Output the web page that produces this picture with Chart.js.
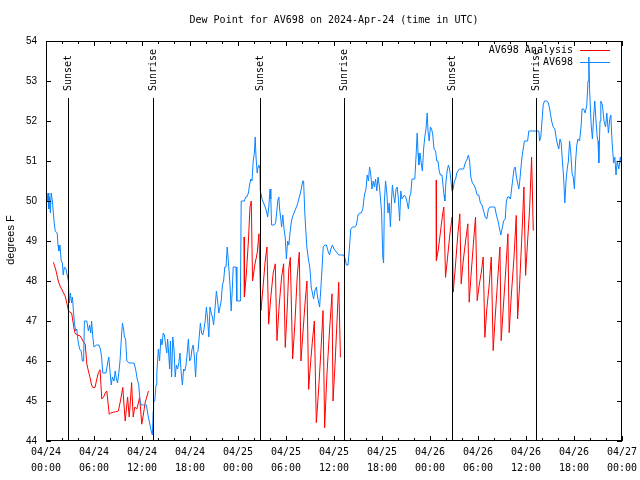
<!DOCTYPE html>
<html>
<head>
<meta charset="utf-8">
<script src="https://cdn.jsdelivr.net/npm/chart.js@4.4.1/dist/chart.umd.min.js"></script>
<style>
  body { margin: 0; background: #fff; }
  #dew { display: block; }
</style>
</head>
<body>
<canvas id="dew" width="640" height="480"></canvas>
<script>
// hours since 04/24 00:00 UTC
const obsHours = [
  0.0, 0.15, 0.25, 0.35, 0.45, 0.55, 0.65, 0.8, 1.0, 1.15, 1.4, 1.5, 1.6, 1.75, 1.9, 2.05, 2.15, 2.3, 2.5, 2.65,
  2.8, 2.9, 3.05, 3.2, 3.3, 3.45, 3.55, 3.7, 3.85, 4.0, 4.2, 4.4, 4.55, 4.7, 4.8, 5.1, 5.3, 5.45, 5.6, 5.7,
  5.85, 6.0, 6.3, 6.6, 6.8, 6.95, 7.1, 7.5, 7.7, 7.85, 8.0, 8.15, 8.3, 8.5, 8.65, 8.8, 8.95, 9.1, 9.25, 9.4,
  9.55, 9.7, 9.8, 9.95, 10.1, 10.4, 10.8, 11.0, 11.2, 11.4, 11.6, 11.75, 11.9, 12.2, 12.4, 12.55, 12.7, 12.85, 13.0, 13.15,
  13.3, 13.4, 13.45, 13.6, 13.75, 13.85, 13.95, 14.05, 14.2, 14.35, 14.5, 14.65, 14.8, 14.95, 15.1, 15.2, 15.3, 15.45, 15.55, 15.7,
  15.85, 16.0, 16.15, 16.3, 16.45, 16.6, 16.75, 16.9, 17.05, 17.2, 17.35, 17.5, 17.65, 17.8, 17.95, 18.1, 18.25, 18.4, 18.55, 18.7,
  18.85, 19.0, 19.15, 19.3, 19.45, 19.6, 19.75, 19.9, 20.05, 20.2, 20.35, 20.5, 20.65, 20.8, 20.95, 21.1, 21.3, 21.45, 21.6, 21.75,
  21.9, 22.05, 22.2, 22.35, 22.5, 22.65, 22.75, 22.9, 23.0, 23.15, 23.3, 23.4, 23.6, 23.75, 23.85, 24.0, 24.3, 24.4, 24.6, 24.8,
  24.95, 25.1, 25.3, 25.45, 25.6, 25.75, 25.9, 26.05, 26.15, 26.25, 26.4, 26.5, 26.6, 26.75, 26.8, 27.0, 27.2, 27.4, 27.55, 27.7,
  27.85, 28.0, 28.1, 28.2, 28.5, 28.7, 28.85, 29.0, 29.1, 29.2, 29.35, 29.45, 29.6, 29.75, 29.9, 30.05, 30.2, 30.35, 30.5, 30.65,
  30.8, 31.0, 31.2, 31.4, 31.6, 31.8, 31.95, 32.1, 32.2, 32.35, 32.45, 32.6, 32.8, 33.0, 33.15, 33.3, 33.45, 33.6, 33.8, 33.95,
  34.1, 34.2, 34.35, 34.5, 34.65, 34.85, 35.05, 35.25, 35.45, 35.6, 35.8, 36.0, 36.2, 36.4, 36.6, 36.8, 37.0, 37.2, 37.4, 37.55,
  37.75, 37.9, 38.1, 38.3, 38.6, 38.8, 39.0, 39.2, 39.4, 39.6, 39.8, 40.0, 40.15, 40.3, 40.45, 40.6, 40.75, 40.9, 41.05, 41.2,
  41.35, 41.5, 41.65, 41.8, 41.95, 42.1, 42.2, 42.3, 42.45, 42.6, 42.75, 42.9, 43.05, 43.2, 43.3, 43.45, 43.6, 43.75, 43.9, 44.05,
  44.2, 44.35, 44.5, 44.65, 44.8, 44.95, 45.1, 45.3, 45.45, 45.6, 45.75, 45.95, 46.1, 46.25, 46.4, 46.5, 46.6, 46.75, 46.9, 47.05,
  47.2, 47.35, 47.5, 47.65, 47.75, 47.9, 48.05, 48.2, 48.35, 48.5, 48.7, 48.85, 49.0, 49.15, 49.3, 49.5, 49.65, 49.75, 49.85, 50.0,
  50.15, 50.3, 50.45, 50.6, 50.75, 50.9, 51.05, 51.2, 51.35, 51.5, 51.7, 52.0, 52.2, 52.4, 52.65, 52.8, 52.95, 53.1, 53.3, 53.5,
  53.7, 53.9, 54.1, 54.3, 54.5, 54.7, 54.9, 55.1, 55.3, 55.5, 55.8, 56.1, 56.3, 56.5, 56.7, 56.85, 57.0, 57.2, 57.4, 57.55,
  57.7, 57.9, 58.05, 58.2, 58.35, 58.5, 58.65, 58.8, 58.95, 59.1, 59.2, 59.35, 59.5, 59.65, 59.8, 60.0, 60.2, 60.35, 60.6, 61.0,
  61.4, 61.6, 61.7, 61.85, 62.0, 62.15, 62.3, 62.6, 62.8, 63.0, 63.2, 63.4, 63.6, 63.8, 63.95, 64.1, 64.25, 64.4, 64.55, 64.7,
  64.85, 65.0, 65.15, 65.3, 65.45, 65.6, 65.75, 65.9, 66.05, 66.2, 66.35, 66.5, 66.7, 66.9, 67.0, 67.2, 67.4, 67.6, 67.75, 67.85,
  67.95, 68.05, 68.15, 68.3, 68.45, 68.6, 68.75, 68.9, 69.0, 69.1, 69.25, 69.35, 69.55, 69.75, 69.95, 70.1, 70.3, 70.5, 70.6, 70.75,
  70.95, 71.1, 71.25, 71.4, 71.6, 71.8, 72.0
];
const obsDewPoint = [
  50.2, 50.0, 50.2, 49.8, 50.1, 49.7, 50.2, 50.0, 49.5, 49.25, 49.2, 48.9, 48.75, 48.9, 48.5, 48.45, 48.15, 48.35, 48.3, 48.15,
  48.0, 47.45, 47.7, 47.45, 47.6, 47.2, 46.95, 46.75, 46.8, 46.5, 46.3, 46.25, 46.0, 46.0, 47.0, 47.0, 46.75, 46.9, 46.7, 47.0,
  46.6, 46.35, 46.4, 46.4, 46.3, 46.1, 45.7, 45.7, 45.95, 46.1, 45.75, 45.4, 45.6, 45.5, 45.75, 45.55, 45.45, 45.7, 46.0, 46.5,
  46.95, 46.8, 46.6, 46.55, 46.0, 45.95, 45.95, 45.95, 45.8, 45.55, 45.4, 45.0, 44.9, 44.9, 44.9, 44.9, 44.7, 44.55, 44.4, 44.25,
  44.15, 44.75, 45.0, 45.0, 45.4, 45.7, 46.0, 46.3, 46.0, 46.55, 46.4, 46.7, 46.65, 46.4, 46.2, 46.55, 46.3, 45.8, 46.5, 45.6,
  46.6, 46.3, 45.6, 45.9, 45.8, 45.95, 46.2, 45.7, 45.4, 45.8, 45.75, 45.9, 46.2, 46.55, 46.0, 46.05, 46.3, 46.4, 46.1, 45.6,
  46.2, 46.25, 46.6, 46.95, 46.7, 46.65, 46.8, 47.0, 47.35, 47.05, 46.6, 47.35, 47.2, 47.1, 46.9, 47.25, 47.75, 47.5, 47.2, 47.35,
  47.5, 47.9, 48.0, 48.35, 48.35, 48.85, 48.6, 48.2, 47.9, 47.25, 47.85, 48.35, 48.35, 48.35, 47.5, 47.5, 47.5, 50.0, 50.0, 50.0,
  50.1, 50.1, 50.2, 50.4, 50.55, 50.5, 51.0, 51.2, 51.6, 51.1, 50.7, 50.85, 50.9, 50.8, 50.25, 50.05, 49.95, 49.85, 49.75, 49.6,
  49.85, 50.3, 50.05, 49.4, 49.4, 49.45, 49.75, 50.05, 50.1, 49.8, 49.55, 49.35, 49.65, 49.3, 49.1, 48.55, 49.0, 48.9, 49.2, 49.45,
  49.6, 49.7, 49.8, 49.9, 50.05, 50.2, 50.35, 50.5, 50.5, 49.7, 49.35, 48.85, 48.55, 48.3, 47.85, 47.7, 47.55, 47.75, 47.85, 47.6,
  47.45, 47.35, 47.8, 48.3, 48.85, 48.9, 48.9, 48.75, 48.65, 48.8, 48.9, 48.8, 48.75, 48.7, 48.65, 48.65, 48.65, 48.65, 48.55, 48.4,
  48.4, 48.75, 49.3, 49.35, 49.35, 49.4, 49.65, 49.7, 49.7, 49.8, 50.15, 50.3, 50.65, 50.5, 50.85, 50.65, 50.3, 50.5, 50.35, 50.55,
  50.25, 50.6, 50.4, 50.1, 49.7, 48.6, 48.45, 50.0, 50.5, 50.2, 49.7, 49.95, 49.35, 50.05, 50.4, 50.15, 49.95, 50.3, 50.35, 50.05,
  49.5, 50.25, 50.05, 50.1, 50.15, 50.1, 50.0, 49.8, 50.1, 50.2, 50.55, 50.55, 50.55, 51.1, 51.7, 51.2, 50.9, 51.2, 50.95, 50.75,
  51.3, 51.6, 51.8, 52.2, 51.75, 51.5, 51.85, 51.8, 51.65, 51.3, 51.25, 51.0, 51.0, 50.75, 50.65, 50.65, 50.35, 50.15, 50.0, 50.5,
  50.75, 50.9, 50.8, 50.55, 50.25, 50.3, 50.5, 50.55, 50.7, 50.75, 50.8, 50.8, 50.8, 50.95, 51.05, 51.15, 51.0, 50.6, 50.45, 50.4,
  50.3, 50.15, 50.15, 49.95, 49.9, 49.75, 49.6, 49.55, 49.8, 49.85, 49.85, 49.85, 49.65, 49.5, 49.3, 49.15, 49.3, 49.5, 49.55, 50.0,
  50.1, 50.1, 50.05, 50.3, 50.55, 50.8, 50.85, 50.6, 50.45, 50.3, 50.45, 50.8, 51.1, 51.3, 51.5, 51.5, 51.5, 51.75, 51.75, 51.75,
  51.75, 51.75, 51.5, 51.6, 52.0, 52.4, 52.5, 52.5, 52.45, 52.25, 52.0, 51.85, 51.8, 51.55, 51.4, 51.3, 51.55, 51.45, 51.0, 50.6,
  49.95, 50.5, 50.8, 51.0, 51.5, 51.2, 50.7, 50.6, 50.3, 51.0, 51.4, 51.55, 51.5, 51.9, 52.3, 52.3, 52.2, 52.4, 53.0, 53.6,
  52.8, 52.3, 51.9, 51.55, 52.1, 52.5, 52.0, 51.6, 51.5, 50.95, 52.0, 52.5, 52.4, 52.0, 51.85, 52.2, 51.7, 52.1, 52.15, 51.5,
  50.95, 51.1, 50.65, 51.0, 50.8, 51.1, 50.8
];

// analysis series, null marks a break between the three runs
const analysisHours = [
  0.92, 1.2, 1.54, 1.8, 1.96, 2.2, 2.38, 2.6, 2.8, 3.0, 3.2, 3.4, 3.6, 3.85, 4.25, 4.5, 4.75, 4.9, 5.1, 5.3,
  5.5, 5.7, 5.84, 6.13, 6.35, 6.55, 6.76, 6.97, 7.2, 7.4, 7.6, 7.9, 8.1, 8.4, 8.7, 9.05, 9.3, 9.6, 9.75, 9.9,
  10.2, 10.4, 10.55, 10.7, 10.9, 11.1, 11.35, 11.55, 11.7, 11.97, 12.2, 12.4, 12.6, 12.8,
  18.0,
  24.75, 24.8, 25.05, 25.3, 25.5, 25.66, 25.82, 26.1, 26.4, 26.62, 26.87, 27.15, 27.4, 27.62, 27.83, 28.1, 28.4, 28.66, 28.87, 29.15,
  29.45, 29.7, 29.91, 30.15, 30.35, 30.54, 30.83, 31.1, 31.4, 31.66, 31.87, 32.15, 32.4, 32.62, 32.83, 33.05, 33.3, 33.54, 33.79, 34.05,
  34.35, 34.63, 34.83, 35.1, 35.45, 35.75, 35.88, 36.15, 36.4, 36.59, 36.8,
  42.0,
  48.77, 48.8, 49.05, 49.35, 49.6, 49.73, 49.94, 50.2, 50.5, 50.77, 50.9, 51.15, 51.45, 51.73, 51.9, 52.15, 52.45, 52.73, 52.9, 53.15,
  53.45, 53.69, 53.9, 54.15, 54.4, 54.65, 54.86, 55.1, 55.4, 55.66, 55.9, 56.15, 56.45, 56.74, 56.9, 57.15, 57.45, 57.74, 57.9, 58.15,
  58.5, 58.78, 58.95, 59.2, 59.5, 59.74, 59.95, 60.2, 60.45, 60.7, 60.91
];
const analysisDewPoint = [
  48.47, 48.3, 48.0, 47.85, 47.8, 47.7, 47.63, 47.45, 47.26, 47.22, 47.2, 46.95, 46.71, 46.65, 46.63, 46.55, 46.45, 46.43, 45.93, 45.75,
  45.59, 45.4, 45.34, 45.34, 45.55, 45.71, 45.78, 45.05, 45.1, 45.2, 45.25, 44.67, 44.7, 44.72, 44.73, 44.75, 45.0, 45.34, 44.9, 44.5,
  45.1, 44.6, 45.0, 45.46, 44.6, 44.85, 44.8, 44.95, 45.1, 44.42, 44.7, 44.97, 45.1, 45.25,
  null,
  49.1, 47.6, 48.2, 49.0, 49.85, 50.0, 48.0, 48.4, 48.7, 49.18, 47.26, 47.9, 48.5, 48.85, 46.92, 47.6, 48.2, 48.43, 46.51, 47.4,
  48.1, 48.43, 46.34, 47.3, 48.3, 48.59, 46.05, 46.9, 48.1, 48.72, 46.0, 46.8, 47.5, 48.0, 45.29, 45.9, 46.5, 47.0, 44.46, 45.2,
  46.2, 47.26, 44.33, 45.6, 46.8, 47.68, 45.0, 46.0, 47.1, 47.97, 46.09,
  null,
  50.52, 48.51, 48.8, 49.3, 49.7, 49.85, 48.09, 48.6, 49.2, 49.6, 47.72, 48.3, 49.1, 49.68, 47.93, 48.5, 49.0, 49.43, 47.47, 48.2,
  49.0, 49.6, 47.51, 47.9, 48.2, 48.6, 46.59, 47.3, 47.9, 48.6, 46.26, 47.1, 48.0, 48.85, 46.51, 47.3, 48.2, 49.18, 46.71, 47.6,
  48.6, 49.64, 47.05, 47.9, 49.2, 50.35, 48.14, 49.0, 49.8, 51.1, 49.26
];

const sunHours = [2.8125, 13.4375, 26.8125, 37.3125, 50.8125, 61.3125];
const sunLabels = ["Sunset", "Sunrise", "Sunset", "Sunrise", "Sunset", "Sunrise"];
const sunLineTop = 52.57;

const yTicks = [44, 45, 46, 47, 48, 49, 50, 51, 52, 53, 54];
const xMajorHours = [0, 6, 12, 18, 24, 30, 36, 42, 48, 54, 60, 66, 72];

const mono = '"DejaVu Sans Mono", "Liberation Mono", monospace';
const sans = '"Liberation Sans", Arial, sans-serif';

const obsPoints = obsHours.map((h, i) => ({ x: h, y: obsDewPoint[i] }));
const analysisPoints = analysisHours.map((h, i) => ({ x: h, y: analysisDewPoint[i] }));
const sunPoints = [];
sunHours.forEach(h => {
  sunPoints.push({ x: h, y: sunLineTop }, { x: h, y: 44 }, { x: h + 0.01, y: null });
});

function tickText(v) {
  const day = 24 + Math.floor(v / 24);
  const hh = String(v % 24).padStart(2, "0");
  return ["04/" + day, hh + ":00"];
}

// gnuplot-ish frame: box, inward ticks, labels, title, key
const frame = {
  id: "frame",
  afterDraw(chart) {
    const { ctx, chartArea: a, scales: { x, y } } = chart;
    ctx.save();
    ctx.strokeStyle = "#000";
    ctx.lineWidth = 1;
    ctx.strokeRect(a.left + 0.5, a.top + 0.5, a.right - a.left - 1, a.bottom - a.top - 1);

    ctx.beginPath();
    for (let h = 0; h <= 72; h += 2) {
      const px = Math.round(x.getPixelForValue(h)) + 0.5;
      const len = xMajorHours.includes(h) ? 5 : 3;
      ctx.moveTo(px, a.bottom); ctx.lineTo(px, a.bottom - len);
      ctx.moveTo(px, a.top); ctx.lineTo(px, a.top + len);
    }
    yTicks.forEach(v => {
      const py = Math.round(y.getPixelForValue(v)) + 0.5;
      ctx.moveTo(a.left, py); ctx.lineTo(a.left + 5, py);
      ctx.moveTo(a.right, py); ctx.lineTo(a.right - 5, py);
    });
    ctx.stroke();

    ctx.fillStyle = "#000";
    ctx.textBaseline = "middle";

    // y tick labels
    ctx.font = "10px " + sans;
    ctx.textAlign = "right";
    yTicks.forEach(v => ctx.fillText(String(v), 37, y.getPixelForValue(v)));

    // x tick labels
    ctx.font = "10px " + mono;
    ctx.textAlign = "center";
    xMajorHours.forEach(v => {
      const px = x.getPixelForValue(v);
      const t = tickText(v);
      ctx.fillText(t[0], px, 452);
      ctx.fillText(t[1], px, 468);
    });

    ctx.fillText("Dew Point for AV698 on 2024-Apr-24 (time in UTC)", (a.left + a.right) / 2, 20);

    // key
    ctx.textAlign = "right";
    ctx.fillText("AV698 Analysis", 573, 50);
    ctx.fillText("AV698", 573, 62);
    ctx.strokeStyle = "#ff0000";
    ctx.beginPath(); ctx.moveTo(580, 50.5); ctx.lineTo(610, 50.5); ctx.stroke();
    ctx.strokeStyle = "#0a84ff";
    ctx.beginPath(); ctx.moveTo(580, 62.5); ctx.lineTo(610, 62.5); ctx.stroke();

    // sunrise / sunset labels
    sunHours.forEach((h, i) => {
      const px = x.getPixelForValue(h);
      ctx.save();
      ctx.translate(px, 91);
      ctx.rotate(-Math.PI / 2);
      ctx.textAlign = "left";
      ctx.fillText(sunLabels[i], 0, 0);
      ctx.restore();
    });

    ctx.save();
    ctx.font = "11px " + sans;
    ctx.translate(11, 240);
    ctx.rotate(-Math.PI / 2);
    ctx.textAlign = "center";
    ctx.fillText("degrees F", 0, 0);
    ctx.restore();
    ctx.restore();
  }
};

new Chart(document.getElementById("dew"), {
  type: "line",
  data: {
    datasets: [
      {
        label: "sun",
        data: sunPoints,
        borderColor: "#000",
        borderWidth: 1,
        pointRadius: 0,
        spanGaps: false,
        order: 0
      },
      {
        label: "AV698",
        data: obsPoints,
        borderColor: "#0a84ff",
        borderWidth: 1,
        pointRadius: 0,
        tension: 0,
        order: 1
      },
      {
        label: "AV698 Analysis",
        data: analysisPoints,
        borderColor: "#ff0000",
        borderWidth: 1,
        pointRadius: 0,
        tension: 0,
        spanGaps: false,
        order: 2
      }
    ]
  },
  options: {
    responsive: false,
    animation: false,
    devicePixelRatio: 1,
    layout: { padding: { top: 41, right: 18, left: 0, bottom: 0 } },
    plugins: { legend: { display: false }, tooltip: { enabled: false } },
    scales: {
      x: {
        type: "linear",
        min: 0,
        max: 72,
        afterFit: s => { s.height = 39; },
        grid: { display: false },
        border: { display: false },
        ticks: { display: false }
      },
      y: {
        min: 44,
        max: 54,
        afterFit: s => { s.width = 46; },
        grid: { display: false },
        border: { display: false },
        ticks: { display: false }
      }
    }
  },
  plugins: [frame]
});
</script>
</body>
</html>
